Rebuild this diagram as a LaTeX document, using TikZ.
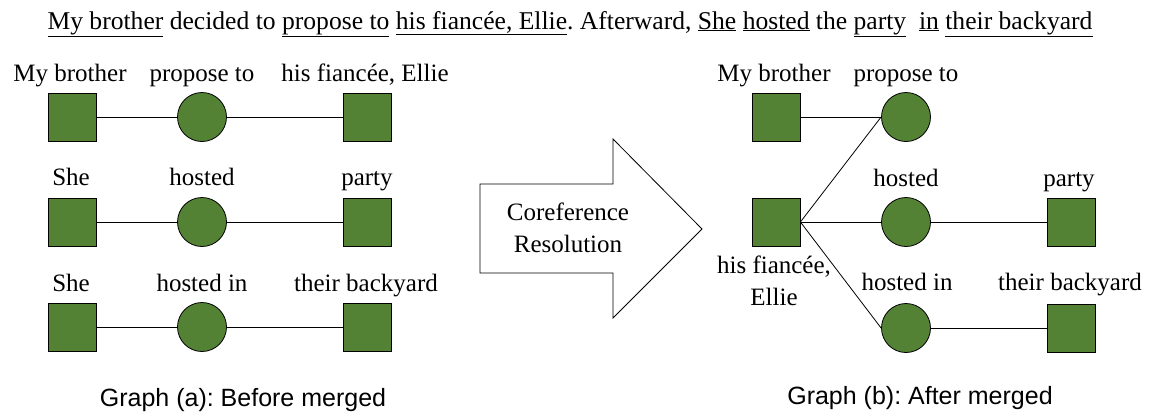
\documentclass[tikz,border=0pt]{standalone}
\usepackage{fontspec}
\setmainfont{Liberation Serif}
\setsansfont{Liberation Sans}
\frenchspacing
\begin{document}
\begin{tikzpicture}[x=1pt,y=-1pt,
  ent/.style={draw=black,line width=0.8pt,fill=leaf,minimum size=48pt,inner sep=0pt},
  rel/.style={circle,draw=black,line width=0.8pt,fill=leaf,minimum size=49pt,inner sep=0pt},
  lbl/.style={anchor=base,inner sep=0pt,font=\fontsize{25}{30}\selectfont},
  captext/.style={anchor=base,inner sep=0pt,font=\sffamily\fontsize{25}{30}\selectfont},
  link/.style={line width=0.8pt}]
\definecolor{leaf}{HTML}{548235}
\useasboundingbox (0,0) rectangle (1153,413);

% sentence
\node[lbl,font=\fontsize{25.6}{30}\selectfont] (sent) at (570,29) {\underline{My brother} decided to \underline{propose to} \underline{his fiancée, Ellie}. Afterward, \underline{She} \underline{hosted} the \underline{party}\ \ \underline{in} \underline{their backyard}};

% graph (a): before merging
\node[ent] (a1) at (72,117) {};
\node[rel] (a2) at (202,117) {};
\node[ent] (a3) at (367,117) {};
\node[ent] (b1) at (72,222) {};
\node[rel] (b2) at (202,222) {};
\node[ent] (b3) at (367,222) {};
\node[ent] (c1) at (72,327) {};
\node[rel] (c2) at (202,327) {};
\node[ent] (c3) at (367,327) {};
\draw[link] (a1) -- (a2) -- (a3);
\draw[link] (b1) -- (b2) -- (b3);
\draw[link] (c1) -- (c2) -- (c3);

\node[lbl] (la1) at (70,81) {My brother};
\node[lbl] (la2) at (202,81) {propose to};
\node[lbl] (la3) at (365,81) {his fiancée, Ellie};
\node[lbl] (lb1) at (71,185) {She};
\node[lbl] (lb2) at (202,185) {hosted};
\node[lbl] (lb3) at (367,185) {party};
\node[lbl] (lc1) at (71,291) {She};
\node[lbl] (lc2) at (202,291) {hosted in};
\node[lbl] (lc3) at (366,291) {their backyard};
\node[captext] (capa) at (243,406) {Graph (a): Before merged};

% resolution arrow
\draw[line width=0.8pt,fill=white] (480,184) -- (613,184) -- (613,139) -- (702,229)
  -- (613,318) -- (613,273) -- (480,273) -- cycle;
\node[lbl] (res1) at (568,220) {Coreference};
\node[lbl] (res2) at (568,252) {Resolution};

% graph (b): after merging
\node[ent] (m1) at (776,117) {};
\node[rel] (p1) at (906,117) {};
\node[ent] (m2) at (776,222) {};
\node[rel] (p2) at (906,222) {};
\node[ent] (m3) at (1071,222) {};
\node[rel] (p3) at (906,328) {};
\node[ent] (m4) at (1071,328) {};
\draw[link] (m1) -- (p1);
\draw[link] (m2.east) -- (p1.west);
\draw[link] (m2) -- (p2) -- (m3);
\draw[link] (m2.east) -- (p3.west);
\draw[link] (p3) -- (m4);

\node[lbl] (lm1) at (774,81) {My brother};
\node[lbl] (lp1) at (906,81) {propose to};
\node[lbl] (lp2) at (906,186) {hosted};
\node[lbl] (lm3) at (1069,186) {party};
\node[lbl] (lp3) at (907,290) {hosted in};
\node[lbl] (lm4) at (1070,290) {their backyard};
\node[lbl] (lm2a) at (774,273) {his fiancée,};
\node[lbl] (lm2b) at (774,305) {Ellie};
\node[captext] (capb) at (920,404) {Graph (b): After merged};
\end{tikzpicture}
\end{document}
